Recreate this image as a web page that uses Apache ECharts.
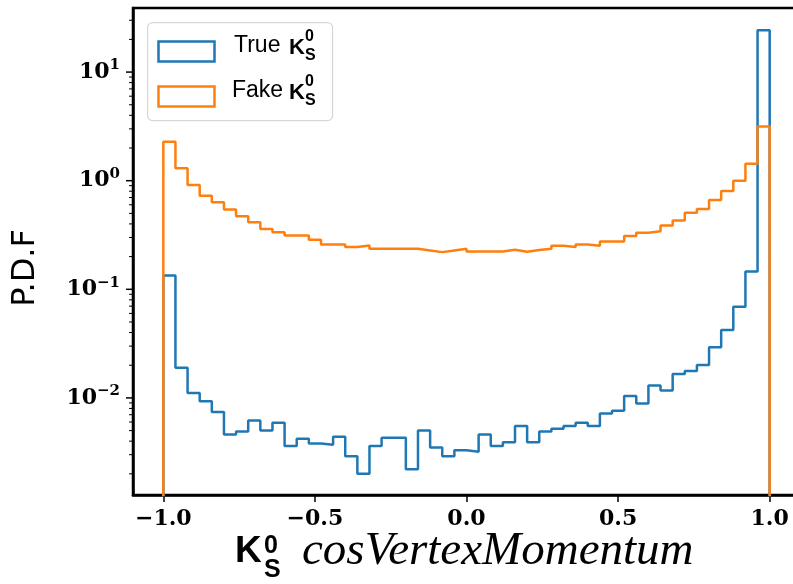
<!DOCTYPE html>
<html><head><meta charset="utf-8">
<script src="https://cdn.jsdelivr.net/npm/echarts@6/dist/echarts.min.js"></script>
<style>html,body{margin:0;padding:0;background:#fff}#c{width:793px;height:584px}</style>
</head><body><div id="c"></div>
<script>
// ---- data ----
const binEdges = [-1.00,-0.96,-0.92,-0.88,-0.84,-0.80,-0.76,-0.72,-0.68,-0.64,-0.60,-0.56,-0.52,-0.48,-0.44,-0.40,-0.36,-0.32,-0.28,-0.24,-0.20,-0.16,-0.12,-0.08,-0.04,0.00,0.04,0.08,0.12,0.16,0.20,0.24,0.28,0.32,0.36,0.40,0.44,0.48,0.52,0.56,0.60,0.64,0.68,0.72,0.76,0.80,0.84,0.88,0.92,0.96,1.00];
const trueK0s = [0.134,0.0190,0.0111,0.0093,0.0074,0.0046,0.0049,0.0062,0.0050,0.0059,0.0036,0.0042,0.0038,0.0037,0.0044,0.0029,0.0020,0.0036,0.0043,0.0043,0.0022,0.0050,0.0035,0.0029,0.0033,0.0032,0.0046,0.0036,0.0039,0.0055,0.0039,0.0049,0.0052,0.0055,0.0059,0.0055,0.0072,0.0076,0.0104,0.0089,0.0130,0.0117,0.0166,0.0177,0.0201,0.0292,0.0421,0.0690,0.146,24.3];
const fakeK0s = [2.28,1.30,0.913,0.728,0.634,0.542,0.471,0.415,0.360,0.336,0.313,0.313,0.286,0.259,0.259,0.245,0.253,0.236,0.236,0.236,0.236,0.228,0.220,0.228,0.236,0.223,0.223,0.223,0.231,0.222,0.230,0.236,0.252,0.245,0.259,0.252,0.276,0.276,0.309,0.331,0.343,0.386,0.430,0.506,0.550,0.665,0.805,1.00,1.43,3.16];
const xTicks = [-1.0,-0.5,0.0,0.5,1.0];
const yMajorTicks = [0.01,0.1,1,10];
const yMinorTicks = [0.002,0.003,0.004,0.005,0.006,0.007,0.008,0.009,0.02,0.03,0.04,0.05,0.06,0.07,0.08,0.09,0.2,0.3,0.4,0.5,0.6,0.7,0.8,0.9,2,3,4,5,6,7,8,9,20,30];
const xMin = -1.1, xMax = 1.1, yMin = 0.001277, yMax = 38.9;
const floorValue = 1e-5;

function stepPoints(vals){
  const pts = [[binEdges[0], floorValue]];
  for (let i = 0; i < vals.length; i++) {
    pts.push([binEdges[i], vals[i]]);
    pts.push([binEdges[i+1], vals[i]]);
  }
  pts.push([binEdges[vals.length], floorValue]);
  return pts;
}
const tickData = yMajorTicks.map(v => [xMin, v, 1]).concat(yMinorTicks.map(v => [xMin, v, 0]));

const BLUE = '#1f77b4', ORANGE = '#ff7f0e';
const chart = echarts.init(document.getElementById('c'), null, {renderer:'canvas'});
const serifB = '"DejaVu Serif"';
chart.setOption({
  animation:false,
  backgroundColor:'#fff',
  grid:{left:133, top:8, width:667, height:487, show:true, borderColor:'#000', borderWidth:2.5, backgroundColor:'#fff', containLabel:false, outerBoundsMode:'none'},
  xAxis:{type:'value', min:xMin, max:xMax,
    axisLine:{show:true, onZero:false, lineStyle:{color:'#000', width:2.5}},
    axisTick:{show:true, customValues:xTicks, length:7, lineStyle:{color:'#000', width:1.5}},
    axisLabel:{customValues:xTicks, margin:13, color:'#000', fontFamily:serifB, fontWeight:'bold', fontSize:22,
      formatter: v => (v < 0 ? '\u2212' : '') + Math.abs(v).toFixed(1)},
    splitLine:{show:false}},
  yAxis:{type:'log', logBase:10, min:yMin, max:yMax,
    axisLine:{show:true, onZero:false, lineStyle:{color:'#000', width:2.5}},
    axisTick:{show:false},
    splitLine:{show:false}, minorTick:{show:false}, minorSplitLine:{show:false},
    axisLabel:{margin:13, showMinLabel:false, showMaxLabel:false, color:'#000',
      formatter: v => { const e = Math.log10(v); const r = Math.round(e);
        if (Math.abs(e - r) > 1e-6) return '';
        return '{b|10}{s|' + (r < 0 ? '\u2212' : '') + Math.abs(r) + '}'; },
      rich:{
        b:{fontFamily:serifB, fontWeight:'bold', fontSize:22, lineHeight:28, color:'#000'},
        s:{fontFamily:serifB, fontWeight:'bold', fontSize:15, lineHeight:16, verticalAlign:'top', color:'#000'}
      }}},
  series:[
    {name:'True K0s', type:'line', data:stepPoints(trueK0s), showSymbol:false, symbol:'none', clip:true,
      lineStyle:{color:BLUE, width:2.5}, itemStyle:{color:BLUE}, z:3},
    {name:'Fake K0s', type:'line', data:stepPoints(fakeK0s), showSymbol:false, symbol:'none', clip:true,
      lineStyle:{color:ORANGE, width:2.5}, itemStyle:{color:ORANGE}, z:4},
    {type:'custom', data:tickData, encode:{x:0, y:1}, clip:false, silent:true, z:5,
      renderItem:(params, api) => {
        const p = api.coord([api.value(0), api.value(1)]);
        const major = api.value(2) === 1;
        const len = major ? 7 : 4;
        return {type:'line', shape:{x1:p[0]-len, y1:p[1], x2:p[0]-1, y2:p[1]},
          style:{stroke:'#000', lineWidth: major ? 1.5 : 1}};
      }}
  ],
  graphic:[
    // legend
    {type:'rect', left:147, top:22, shape:{width:185, height:98, r:5}, style:{fill:'rgba(255,255,255,0.8)', stroke:'#d6d6d6', lineWidth:1.2}, z:10},
    {type:'rect', left:156, top:39, shape:{width:56, height:20}, style:{fill:'none', stroke:BLUE, lineWidth:2.5}, z:11},
    {type:'rect', left:156, top:84, shape:{width:56, height:20}, style:{fill:'none', stroke:ORANGE, lineWidth:2.5}, z:11},
    {type:'text', x:234, y:46, style:{text:'True', font:'23px "Liberation Sans"', fill:'#000', align:'left', verticalAlign:'middle'}, z:11},
    {type:'text', x:289, y:48, style:{text:'K', font:'bold 22px "Liberation Sans"', fill:'#000', align:'left', verticalAlign:'middle'}, z:11},
    {type:'text', x:305, y:37, style:{text:'0', font:'bold 16px "Liberation Sans"', fill:'#000', align:'left', verticalAlign:'middle'}, z:11},
    {type:'text', x:305, y:56, style:{text:'S', font:'bold 16px "Liberation Sans"', fill:'#000', align:'left', verticalAlign:'middle'}, z:11},
    {type:'text', x:232, y:91, style:{text:'Fake', font:'23px "Liberation Sans"', fill:'#000', align:'left', verticalAlign:'middle'}, z:11},
    {type:'text', x:289, y:93, style:{text:'K', font:'bold 22px "Liberation Sans"', fill:'#000', align:'left', verticalAlign:'middle'}, z:11},
    {type:'text', x:305, y:82, style:{text:'0', font:'bold 16px "Liberation Sans"', fill:'#000', align:'left', verticalAlign:'middle'}, z:11},
    {type:'text', x:305, y:101, style:{text:'S', font:'bold 16px "Liberation Sans"', fill:'#000', align:'left', verticalAlign:'middle'}, z:11},
    // y axis name
    {type:'text', x:26, y:268, rotation:Math.PI/2, style:{text:'P.D.F', font:'32px "DejaVu Sans"', fill:'#000', align:'center', verticalAlign:'middle'}, z:11},
    // x axis name
    {type:'text', x:235, y:552, style:{text:'K', font:'bold 37px "Liberation Sans"', fill:'#000', align:'left', verticalAlign:'middle'}, z:11},
    {type:'text', x:264, y:546, style:{text:'0', font:'bold 25px "Liberation Sans"', fill:'#000', align:'left', verticalAlign:'middle'}, z:11},
    {type:'text', x:264, y:570, style:{text:'S', font:'bold 25px "Liberation Sans"', fill:'#000', align:'left', verticalAlign:'middle'}, z:11},
    {type:'text', x:302, y:552, style:{text:'cosVertexMomentum', font:'italic 47px "Liberation Serif"', fill:'#000', align:'left', verticalAlign:'middle'}, z:11}
  ]
});
</script></body></html>
